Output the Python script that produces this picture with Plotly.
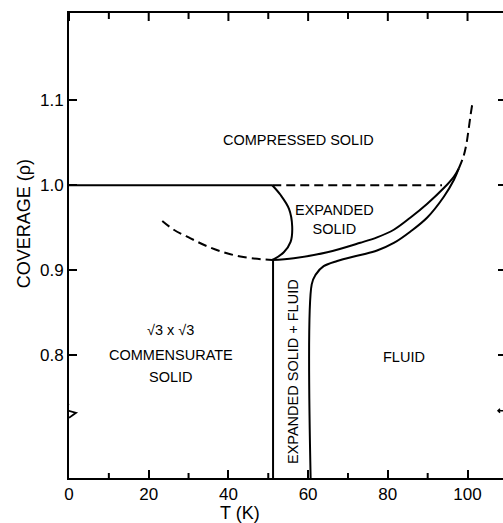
import plotly.graph_objects as go

# ---------------- data ----------------
# commensurate / compressed boundary (solid, rho = 1.0)
comm_top_T = [0.0, 51.0]
comm_top_rho = [1.0, 1.0]

# re-entrant boundary between commensurate and expanded solid
reent_T = [51.0, 53.1, 55.2, 56.0, 55.6, 53.9, 51.4, 51.0]
reent_rho = [1.0, 0.9885, 0.9723, 0.9518, 0.9334, 0.9212, 0.9131, 0.9122]

# dashed extension of commensurate boundary
comm_dash_T = [23.4, 26.3, 30.5, 34.7, 38.8, 43.0, 48.1, 51.0]
comm_dash_rho = [0.958, 0.9477, 0.9376, 0.9282, 0.9212, 0.9163, 0.9131, 0.9122]

# dashed compressed / expanded boundary
comp_dash_T = [51.0, 93.6]
comp_dash_rho = [1.0, 1.0]

# vertical boundary commensurate | expanded solid + fluid
left_vert_T = [51.2, 51.2]
left_vert_rho = [0.9122, 0.60]

# lower boundary of expanded solid
exp_low_T = [51.0, 56.4, 64.8, 73.1, 77.3, 81.5, 85.7, 89.9, 94.05, 96.6, 97.8]
exp_low_rho = [0.9122, 0.9143, 0.9212, 0.9324, 0.9388, 0.9477, 0.9621, 0.9783, 0.9967, 1.0102, 1.0197]

# fluid boundary
fluid_T = [60.9, 60.9, 61.9, 63.9, 67.3, 73.1, 77.3, 81.5, 85.7, 89.9, 94.05, 96.6, 97.8]
fluid_rho = [0.60, 0.8835, 0.8950, 0.9049, 0.9110, 0.9180, 0.9233, 0.9322, 0.9457, 0.9621, 0.9865, 1.0064, 1.0197]

# dashed upper continuation
upper_dash_T = [97.8, 98.95, 99.7, 100.25, 100.75, 101.2]
upper_dash_rho = [1.0197, 1.0333, 1.048, 1.065, 1.082, 1.0955]

x_ticks = [0, 20, 40, 60, 80, 100]
x_minor = [10, 30, 50, 70, 90]
y_ticks = [0.8, 0.9, 1.0, 1.1]
y_ticktext = ["0.8", "0.9", "1.0", "1.1"]
x_range = [0, 108.9]
y_range = [0.656, 1.2024]
rho_break = 0.735

FONT = "Liberation Sans, Arial, sans-serif"
LW = 2
DASH = "9px,5px"

W, H = 503, 523
M = dict(l=69, r=0, t=13, b=45)
plot_h = H - M["t"] - M["b"]
rho_per_px = (y_range[1] - y_range[0]) / plot_h

fig = go.Figure()

def line(T, r, dash=None, shape="linear", width=LW):
    fig.add_trace(go.Scatter(x=T, y=r, mode="lines",
                             line=dict(color="black", width=width, dash=dash, shape=shape),
                             hoverinfo="skip"))

line(comm_top_T, comm_top_rho)
line(reent_T, reent_rho, shape="spline")
line(comm_dash_T, comm_dash_rho, dash=DASH, shape="spline")
line(comp_dash_T, comp_dash_rho, dash=DASH)
line(left_vert_T, left_vert_rho)
line(exp_low_T, exp_low_rho, shape="spline")
line(fluid_T, fluid_rho, shape="spline")
line(upper_dash_T, upper_dash_rho, dash=DASH, shape="spline")

# tick marks along the top frame and minor ticks along the bottom frame
tx, ty = [], []
for v in x_ticks + x_minor:
    ln = (8 if v in x_ticks else 6) * rho_per_px
    tx += [v, v, None]
    ty += [y_range[1], y_range[1] - ln, None]
for v in x_minor:
    tx += [v, v, None]
    ty += [y_range[0], y_range[0] + 5 * rho_per_px, None]
line(tx, ty, width=2)

# invisible trace for the right-hand tick axis
fig.add_trace(go.Scatter(x=[0], y=[1.0], yaxis="y2", mode="markers",
                         marker=dict(opacity=0), hoverinfo="skip"))

# ---------------- labels ----------------
LBL = 14.5
def label(text, T, r, angle=0):
    fig.add_annotation(x=T, y=r, xref="x", yref="y", text=text, showarrow=False,
                       textangle=angle, xanchor="center", yanchor="middle",
                       font=dict(size=LBL, family=FONT, color="black"))

label("COMPRESSED SOLID", 57.5, 1.0531)
label("EXPANDED<br>SOLID", 66.5, 0.9603)
label("√3 x √3", 25.5, 0.8299)
label("COMMENSURATE", 25.5, 0.8005)
label("SOLID", 25.5, 0.7743)
label("FLUID", 84.0, 0.7978)
label("EXPANDED SOLID + FLUID", 56.2, 0.7817, angle=-90)

fig.add_annotation(x=43.0, y=-0.0746, xref="x", yref="paper", text="T (K)",
                   showarrow=False, xanchor="center", yanchor="middle",
                   font=dict(size=18, family=FONT, color="black"))
fig.add_annotation(x=-0.1037, y=0.548, xref="paper", yref="paper", text="COVERAGE (ρ)",
                   showarrow=False, textangle=-90, xanchor="center", yanchor="middle",
                   font=dict(size=18, family=FONT, color="black"))

# ---------------- axis break marks ----------------
fig.add_shape(type="line", xref="x", yref="y", xsizemode="pixel", ysizemode="pixel",
              xanchor=0, yanchor=rho_break, x0=0, x1=0, y0=-7, y1=7,
              line=dict(color="white", width=4), layer="above")
fig.add_shape(type="path", xref="x", yref="y", xsizemode="pixel", ysizemode="pixel",
              xanchor=0, yanchor=rho_break,
              path="M 0 7 L -8 2 L 7 -2 L 0 -7",
              line=dict(color="black", width=1.8), layer="above")
fig.add_shape(type="path", xref="x", yref="y", xsizemode="pixel", ysizemode="pixel",
              xanchor=x_range[1], yanchor=rho_break,
              path="M 0 0 L -5 0 M -3 2 L -5 0 L -3 -2",
              line=dict(color="black", width=1.5), layer="above")

tick_common = dict(tickwidth=2, tickcolor="black", showgrid=False, zeroline=False)

fig.update_layout(
    width=W, height=H,
    margin=M,
    plot_bgcolor="white", paper_bgcolor="white",
    showlegend=False,
    font=dict(family=FONT, color="black"),
    xaxis=dict(range=x_range, tickvals=x_ticks, ticks="inside", ticklen=8,
               showline=True, linewidth=2, linecolor="black", mirror=True,
               tickfont=dict(size=17, family=FONT, color="black"),
               **tick_common),
    yaxis=dict(range=y_range, tickvals=y_ticks, ticktext=y_ticktext, ticks="inside",
               ticklen=8, showline=True, linewidth=2, linecolor="black", mirror=False,
               tickfont=dict(size=17, family=FONT, color="black"), **tick_common),
    yaxis2=dict(range=y_range, overlaying="y", side="right", tickvals=y_ticks,
                ticks="inside", ticklen=5, showline=False, showticklabels=False,
                **tick_common),
)

fig.write_html("out.html")
